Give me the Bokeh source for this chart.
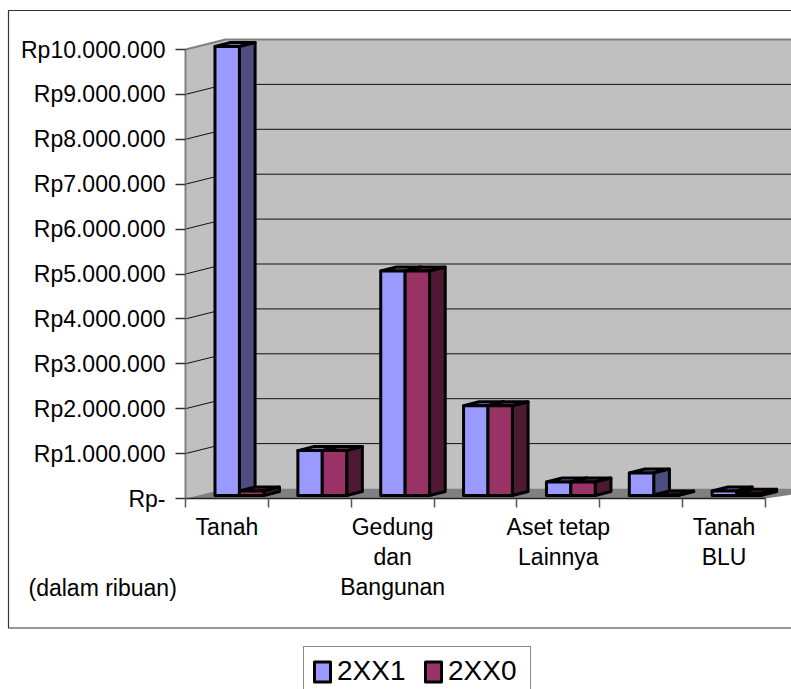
from bokeh.embed import file_html
from bokeh.resources import INLINE
from bokeh.plotting import figure
from bokeh.models import (Range1d, LinearAxis, FixedTicker, Legend, LegendItem, Label)

# ---- chart values ----
categories = ["Tanah", "", "Gedung\ndan\nBangunan", "", "Aset tetap\nLainnya", "", "Tanah\nBLU"]
series_names = ["2XX1", "2XX0"]
values_2xx1 = [10000000, 1000000, 5000000, 2000000, 300000, 500000, 100000]
values_2xx0 = [100000, 1000000, 5000000, 2000000, 300000, 10000, 50000]
tick_values = [0, 1000000, 2000000, 3000000, 4000000, 5000000, 6000000, 7000000, 8000000, 9000000, 10000000]
tick_labels = ["Rp-", "Rp1.000.000", "Rp2.000.000", "Rp3.000.000", "Rp4.000.000", "Rp5.000.000",
               "Rp6.000.000", "Rp7.000.000", "Rp8.000.000", "Rp9.000.000", "Rp10.000.000"]
note_text = "(dalam ribuan)"

# ---- page and scale geometry ----
W, H = 791, 689
X0_PX, Y0_PX = 185.0, 498.0     # pixel position of the axis origin
CAT_PX = 82.86                  # width of one category
MIL_PX = 44.9                   # height of one million rupiah
FONT = "Liberation Sans"

def ux(px):
    """Horizontal length in pixels, as category units."""
    return px / CAT_PX

def uy(px):
    """Vertical length in pixels, as rupiah."""
    return px / MIL_PX * 1e6

def dx(px):
    return ux(px - X0_PX)

def dy(px):
    return uy(Y0_PX - px)

p = figure(width=W, height=H, output_backend="svg", toolbar_location=None,
           x_range=Range1d(dx(0), dx(W)), y_range=Range1d(dy(H), dy(0)),
           x_axis_type=None, y_axis_type=None, min_border=0,
           background_fill_color="white", border_fill_color="white", outline_line_color=None)
p.grid.visible = False

# ---- 3D box: walls and floor ----
WALL_DX, WALL_DY = 40.0, 10.0
GRAY_WALL, GRAY_FLOOR, GRAY_EDGE = "#C0C0C0", "#808080", "#808080"
top_val = tick_values[-1]
x_back = ux(WALL_DX)
y_back = uy(WALL_DY)

p.patch([0, x_back, x_back, 0], [0, y_back, top_val + y_back, top_val], fill_color=GRAY_WALL, line_color=None)
p.quad(left=x_back, right=dx(W + 5), bottom=y_back, top=top_val + y_back, fill_color=GRAY_WALL, line_color=None)
p.patch([0, len(categories), dx(W + 40), x_back], [0, 0, y_back, y_back], fill_color=GRAY_FLOOR, line_color=None)

for v in tick_values[1:-1]:
    p.line([0, x_back, dx(W + 5)], [v, v + y_back, v + y_back], line_color="#111111", line_width=1)
p.line([0, x_back, dx(W + 5)], [top_val, top_val + y_back, top_val + y_back], line_color=GRAY_EDGE, line_width=2)

# ---- 3D bars ----
BAR_OFF = 29.5
BAR_W = 24.4
DEPTH_X, DEPTH_Y = 15.7, 4.0
BASE_LIFT = 3.0
STROKE = 3.0

def bar_faces(values, slot):
    lefts, rights, bottoms, tops, side_x, side_y, top_x, top_y = [], [], [], [], [], [], [], []
    b = uy(BASE_LIFT)
    for i, v in enumerate(values):
        l = i + ux(BAR_OFF + slot * BAR_W)
        r = l + ux(BAR_W)
        t = b + v
        lefts.append(l); rights.append(r); bottoms.append(b); tops.append(t)
        side_x.append([r, r + ux(DEPTH_X), r + ux(DEPTH_X), r])
        side_y.append([b, b + uy(DEPTH_Y), t + uy(DEPTH_Y), t])
        top_x.append([l, l + ux(DEPTH_X), r + ux(DEPTH_X), r])
        top_y.append([t, t + uy(DEPTH_Y), t + uy(DEPTH_Y), t])
    return lefts, rights, bottoms, tops, side_x, side_y, top_x, top_y

face_colors = [("#9999FF", "#7373BF", "#4D4D80"), ("#993366", "#732650", "#4D1933")]
legend_items = []
for slot, (name, vals) in enumerate(zip(series_names, [values_2xx1, values_2xx0])):
    front_c, top_c, side_c = face_colors[slot]
    l, r, b, t, sx, sy, tx, ty = bar_faces(vals, slot)
    p.patches(tx, ty, fill_color=top_c, line_color="black", line_width=STROKE, line_join="round")
    p.patches(sx, sy, fill_color=side_c, line_color="black", line_width=STROKE, line_join="round")
    front = p.quad(left=l, right=r, bottom=b, top=t, fill_color=front_c, line_color="black",
                   line_width=STROKE, line_join="round")
    legend_items.append(LegendItem(label=name, renderers=[front]))

# ---- axes ----
yaxis = LinearAxis(fixed_location=0, bounds=(0, top_val), ticker=FixedTicker(ticks=tick_values),
                   major_label_overrides={v: s for v, s in zip(tick_values, tick_labels)},
                   axis_line_color=GRAY_EDGE, axis_line_width=2,
                   major_tick_line_color="#333333", major_tick_line_width=1.5,
                   major_tick_in=0, major_tick_out=10, minor_tick_line_color=None,
                   major_label_standoff=10, major_label_text_font=FONT,
                   major_label_text_font_size="23px", major_label_text_color="black")
p.add_layout(yaxis, "left")

n = len(categories)
xaxis = LinearAxis(fixed_location=0, bounds=(0, n), ticker=FixedTicker(ticks=list(range(n + 1))),
                   major_label_text_font_size="0px", major_label_text_color=None,
                   axis_line_color="#222222", axis_line_width=1.5,
                   major_tick_line_color="#555555", major_tick_line_width=1.5,
                   major_tick_in=0, major_tick_out=9, minor_tick_line_color=None)
p.add_layout(xaxis, "below")

label_axis = LinearAxis(fixed_location=0, ticker=FixedTicker(ticks=[i + 0.5 for i, c in enumerate(categories) if c]),
                        major_label_overrides={i + 0.5: c for i, c in enumerate(categories) if c},
                        axis_line_color=None, major_tick_line_color=None, minor_tick_line_color=None,
                        major_label_standoff=9, major_label_text_font=FONT,
                        major_label_text_font_size="23px", major_label_text_color="black",
                        major_label_text_line_height=1.17)
p.add_layout(label_axis, "below")

p.add_layout(Label(x=28, y=H - 587, x_units="screen", y_units="screen", text=note_text,
                   text_font=FONT, text_font_size="23px", text_baseline="middle", text_color="black"))

# ---- chart border ----
p.line([dx(W + 5), dx(8), dx(8), dx(W + 5)], [dy(10), dy(10), dy(627.5), dy(627.5)],
       line_color="#333333", line_width=1.2)

# ---- legend ----
legend = Legend(items=legend_items, orientation="horizontal", location=(303, -7),
                glyph_width=20, glyph_height=25, label_standoff=5, spacing=12, label_width=74,
                padding=8, margin=0, label_text_font=FONT, label_text_font_size="28px",
                label_text_color="black", border_line_color="#111111", border_line_width=1.5,
                background_fill_color="white", background_fill_alpha=1)
p.add_layout(legend, "center")

open("out.html", "w").write(file_html(p, INLINE))
